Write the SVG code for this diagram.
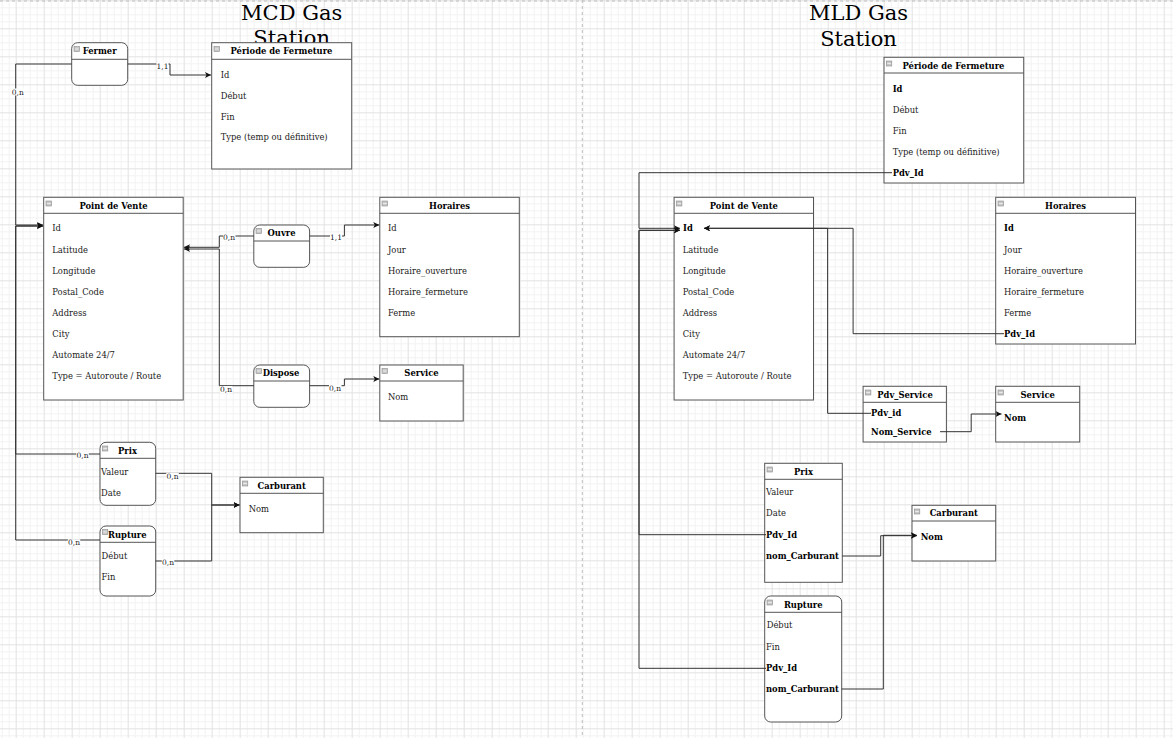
<svg xmlns="http://www.w3.org/2000/svg" width="1173" height="738" viewBox="0 0 1173 738">
<style>
.box{fill:#fff;stroke:#555;stroke-width:1}
.hd{stroke:#555;stroke-width:1;fill:none}
.ic{fill:#c8c8c8;stroke:#8a8a8a;stroke-width:0.6}
.icl{stroke:#f4f4f4;stroke-width:0.8}
.t{font-family:"DejaVu Serif","Liberation Serif",serif;font-size:8.4px;fill:#1a1a1a}
.b{font-weight:bold;fill:#000}
.c{text-anchor:middle}
.h{font-family:"DejaVu Serif","Liberation Serif",serif;font-size:21px;fill:#000;text-anchor:middle}
.edge{fill:none;stroke:#333;stroke-width:1}
.lbl{font-family:"DejaVu Serif","Liberation Serif",serif;font-size:7.5px;fill:#222;text-anchor:middle}
.lbg{fill:#fff}
</style>
<defs>
<pattern id="grid" x="15.7" y="0.3" width="28" height="28" patternUnits="userSpaceOnUse">
<path d="M7.5 0V28M14.5 0V28M21.5 0V28M0 7.5H28M0 14.5H28M0 21.5H28" stroke="#f2f2f2" stroke-width="1"/>
<path d="M0.5 0V28M0 0.5H28" stroke="#e2e2e2" stroke-width="1"/>
</pattern>
<marker id="arr" markerUnits="userSpaceOnUse" markerWidth="7" markerHeight="7" refX="6" refY="3" orient="auto">
<path d="M0,0 L6,3 L0,6 L1.5,3 Z" fill="#111"/>
</marker>
</defs>
<rect width="1173" height="738" fill="#fff"/>
<rect width="1173" height="738" fill="url(#grid)"/>
<line x1="0" y1="1" x2="1173" y2="1" stroke="#bdbdbd" stroke-dasharray="3 3"/>
<line x1="582.3" y1="0" x2="582.3" y2="738" stroke="#bdbdbd" stroke-dasharray="3 3"/>

<g id="title-mcd">
<text class="h" x="291.7" y="19.5">MCD Gas</text>
<text class="h" x="291.7" y="45">Station</text>
</g>
<g id="title-mld">
<text class="h" x="858.5" y="20">MLD Gas</text>
<text class="h" x="858.5" y="45.5">Station</text>
</g>

<!-- MCD -->
<g id="mcd-fermer">
<rect class="box" x="71.7" y="42.7" width="56" height="42.6" rx="6"/>
<line class="hd" x1="71.7" y1="59.3" x2="127.7" y2="59.3"/>
<rect class="ic" x="74" y="46.5" width="5.5" height="5"/><line class="icl" x1="75" y1="49" x2="78.5" y2="49"/>
<text class="t b c" x="99.7" y="54">Fermer</text>
</g>
<g id="mcd-periode">
<rect class="box" x="211.7" y="42.7" width="140" height="126.3"/>
<line class="hd" x1="211.7" y1="59.3" x2="351.7" y2="59.3"/>
<rect class="ic" x="214" y="46.5" width="5.5" height="5"/><line class="icl" x1="215" y1="49" x2="218.5" y2="49"/>
<text class="t b c" x="281.5" y="54">Période de Fermeture</text>
<text class="t" x="220.7" y="78">Id</text>
<text class="t" x="220.7" y="98.7">Début</text>
<text class="t" x="220.7" y="119.7">Fin</text>
<text class="t" x="220.7" y="140.3">Type (temp ou définitive)</text>
</g>
<g id="mcd-pdv">
<rect class="box" x="43.7" y="197.3" width="139.5" height="202.7"/>
<line class="hd" x1="43.7" y1="213.3" x2="183.2" y2="213.3"/>
<rect class="ic" x="46" y="201" width="5.5" height="5"/><line class="icl" x1="47" y1="203.5" x2="50.5" y2="203.5"/>
<text class="t b c" x="113.5" y="208.7">Point de Vente</text>
<text class="t" x="52.3" y="231.3">Id</text>
<text class="t" x="52.3" y="252.7">Latitude</text>
<text class="t" x="52.3" y="273.7">Longitude</text>
<text class="t" x="52.3" y="294.7">Postal_Code</text>
<text class="t" x="52.3" y="315.7">Address</text>
<text class="t" x="52.3" y="336.7">City</text>
<text class="t" x="52.3" y="357.7">Automate 24/7</text>
<text class="t" x="52.3" y="378.7">Type = Autoroute / Route</text>
</g>
<g id="mcd-ouvre">
<rect class="box" x="253.8" y="225" width="55.8" height="42.3" rx="6"/>
<line class="hd" x1="253.8" y1="241" x2="309.6" y2="241"/>
<rect class="ic" x="256" y="228.5" width="5.5" height="5"/><line class="icl" x1="257" y1="231" x2="260.5" y2="231"/>
<text class="t b c" x="281.5" y="236.3">Ouvre</text>
</g>
<g id="mcd-dispose">
<rect class="box" x="253.8" y="365" width="55.8" height="42.3" rx="6"/>
<line class="hd" x1="253.8" y1="381" x2="309.6" y2="381"/>
<rect class="ic" x="256" y="368.5" width="5.5" height="5"/><line class="icl" x1="257" y1="371" x2="260.5" y2="371"/>
<text class="t b c" x="281" y="376.3">Dispose</text>
</g>
<g id="mcd-horaires">
<rect class="box" x="379.8" y="197.3" width="139.5" height="139.4"/>
<line class="hd" x1="379.8" y1="213.3" x2="519.3" y2="213.3"/>
<rect class="ic" x="382" y="201" width="5.5" height="5"/><line class="icl" x1="383" y1="203.5" x2="386.5" y2="203.5"/>
<text class="t b c" x="449.5" y="208.7">Horaires</text>
<text class="t" x="388" y="231.3">Id</text>
<text class="t" x="388" y="252.7">Jour</text>
<text class="t" x="388" y="273.7">Horaire_ouverture</text>
<text class="t" x="388" y="294.7">Horaire_fermeture</text>
<text class="t" x="388" y="315.7">Ferme</text>
</g>
<g id="mcd-service">
<rect class="box" x="379.8" y="365" width="83.4" height="56"/>
<line class="hd" x1="379.8" y1="381" x2="463.2" y2="381"/>
<rect class="ic" x="382" y="368.5" width="5.5" height="5"/><line class="icl" x1="383" y1="371" x2="386.5" y2="371"/>
<text class="t b c" x="421.5" y="376.3">Service</text>
<text class="t" x="388" y="399.7">Nom</text>
</g>
<g id="mcd-prix">
<rect class="box" x="100" y="442.3" width="55.7" height="63" rx="6"/>
<line class="hd" x1="100" y1="458.3" x2="155.7" y2="458.3"/>
<rect class="ic" x="102.3" y="446" width="5.5" height="5"/><line class="icl" x1="103.3" y1="448.5" x2="106.8" y2="448.5"/>
<text class="t b c" x="127.5" y="453.7">Prix</text>
<text class="t" x="101" y="474.7">Valeur</text>
<text class="t" x="101" y="495.7">Date</text>
</g>
<g id="mcd-rupture">
<rect class="box" x="100" y="526" width="55.7" height="70" rx="6"/>
<line class="hd" x1="100" y1="542.3" x2="155.7" y2="542.3"/>
<rect class="ic" x="102.3" y="529.5" width="5.5" height="5"/><line class="icl" x1="103.3" y1="532" x2="106.8" y2="532"/>
<text class="t b c" x="127.3" y="537.7">Rupture</text>
<text class="t" x="101.5" y="558.7">Début</text>
<text class="t" x="101.5" y="579.7">Fin</text>
</g>
<g id="mcd-carburant">
<rect class="box" x="240" y="477.3" width="83.3" height="55.4"/>
<line class="hd" x1="240" y1="493.3" x2="323.3" y2="493.3"/>
<rect class="ic" x="242.3" y="481" width="5.5" height="5"/><line class="icl" x1="243.3" y1="483.5" x2="246.8" y2="483.5"/>
<text class="t b c" x="281.7" y="488.7">Carburant</text>
<text class="t" x="248.7" y="512">Nom</text>
</g>

<!-- MLD -->
<g id="mld-periode">
<rect class="box" x="884" y="57.3" width="139.7" height="125.7"/>
<line class="hd" x1="884" y1="73" x2="1023.7" y2="73"/>
<rect class="ic" x="886.3" y="61" width="5.5" height="5"/><line class="icl" x1="887.3" y1="63.5" x2="890.8" y2="63.5"/>
<text class="t b c" x="953.5" y="68.7">Période de Fermeture</text>
<text class="t b" x="892.7" y="91.7">Id</text>
<text class="t" x="892.7" y="112.7">Début</text>
<text class="t" x="892.7" y="133.7">Fin</text>
<text class="t" x="892.7" y="154.7">Type (temp ou définitive)</text>
<text class="t b" x="892.7" y="175.7">Pdv_Id</text>
</g>
<g id="mld-pdv">
<rect class="box" x="674.1" y="197.3" width="139.4" height="202.7"/>
<line class="hd" x1="674.1" y1="213.3" x2="813.5" y2="213.3"/>
<rect class="ic" x="676.4" y="201" width="5.5" height="5"/><line class="icl" x1="677.4" y1="203.5" x2="680.9" y2="203.5"/>
<text class="t b c" x="743.8" y="208.7">Point de Vente</text>
<text class="t b" x="683" y="231.3">Id</text>
<text class="t" x="682.7" y="252.7">Latitude</text>
<text class="t" x="682.7" y="273.7">Longitude</text>
<text class="t" x="682.7" y="294.7">Postal_Code</text>
<text class="t" x="682.7" y="315.7">Address</text>
<text class="t" x="682.7" y="336.7">City</text>
<text class="t" x="682.7" y="357.7">Automate 24/7</text>
<text class="t" x="682.7" y="378.7">Type = Autoroute / Route</text>
</g>
<g id="mld-horaires">
<rect class="box" x="995.7" y="197.3" width="139.8" height="146.7"/>
<line class="hd" x1="995.7" y1="213.3" x2="1135.5" y2="213.3"/>
<rect class="ic" x="998" y="201" width="5.5" height="5"/><line class="icl" x1="999" y1="203.5" x2="1002.5" y2="203.5"/>
<text class="t b c" x="1065.6" y="208.7">Horaires</text>
<text class="t b" x="1004" y="231.3">Id</text>
<text class="t" x="1004" y="252.7">Jour</text>
<text class="t" x="1004" y="273.7">Horaire_ouverture</text>
<text class="t" x="1004" y="294.7">Horaire_fermeture</text>
<text class="t" x="1004" y="315.7">Ferme</text>
<text class="t b" x="1004" y="336.7">Pdv_Id</text>
</g>
<g id="mld-pdv-service">
<rect class="box" x="863.1" y="386.3" width="83.3" height="55.7"/>
<line class="hd" x1="863.1" y1="402.3" x2="946.4" y2="402.3"/>
<rect class="ic" x="865.4" y="390" width="5.5" height="5"/><line class="icl" x1="866.4" y1="392.5" x2="869.9" y2="392.5"/>
<text class="t b c" x="905" y="397.7">Pdv_Service</text>
<text class="t b" x="871" y="416.3">Pdv_id</text>
<text class="t b" x="871" y="434.7">Nom_Service</text>
</g>
<g id="mld-service">
<rect class="box" x="995.7" y="386.3" width="84" height="55.7"/>
<line class="hd" x1="995.7" y1="402.3" x2="1079.7" y2="402.3"/>
<rect class="ic" x="998" y="390" width="5.5" height="5"/><line class="icl" x1="999" y1="392.5" x2="1002.5" y2="392.5"/>
<text class="t b c" x="1037.7" y="397.7">Service</text>
<text class="t b" x="1004" y="420.7">Nom</text>
</g>
<g id="mld-prix">
<rect class="box" x="764.7" y="463.3" width="77.6" height="119"/>
<line class="hd" x1="764.7" y1="479.3" x2="842.3" y2="479.3"/>
<rect class="ic" x="767" y="467" width="5.5" height="5"/><line class="icl" x1="768" y1="469.5" x2="771.5" y2="469.5"/>
<text class="t b c" x="803.5" y="474.7">Prix</text>
<text class="t" x="766" y="495.3">Valeur</text>
<text class="t" x="766" y="516.3">Date</text>
<text class="t b" x="766" y="537.7">Pdv_Id</text>
<text class="t b" x="766" y="559">nom_Carburant</text>
</g>
<g id="mld-rupture">
<rect class="box" x="764.7" y="596" width="77" height="126" rx="6"/>
<line class="hd" x1="764.7" y1="612.3" x2="841.7" y2="612.3"/>
<rect class="ic" x="767" y="600" width="5.5" height="5"/><line class="icl" x1="768" y1="602.5" x2="771.5" y2="602.5"/>
<text class="t b c" x="803.2" y="607.7">Rupture</text>
<text class="t" x="766.7" y="628.3">Début</text>
<text class="t" x="766" y="649.7">Fin</text>
<text class="t b" x="766" y="670.7">Pdv_Id</text>
<text class="t b" x="766" y="692">nom_Carburant</text>
</g>
<g id="mld-carburant">
<rect class="box" x="912" y="505.3" width="83.7" height="55.7"/>
<line class="hd" x1="912" y1="521" x2="995.7" y2="521"/>
<rect class="ic" x="914.3" y="509" width="5.5" height="5"/><line class="icl" x1="915.3" y1="511.5" x2="918.8" y2="511.5"/>
<text class="t b c" x="953.8" y="516.3">Carburant</text>
<text class="t b" x="920.7" y="539.7">Nom</text>
</g>

<g id="connectors">
<path class="edge" d="M71.7,64 H15.7 V225 H43" marker-end="url(#arr)"/>
<path class="edge" d="M100,454 H15.7 V226 H43" marker-end="url(#arr)"/>
<path class="edge" d="M100,540 H15.7 V226 H43" marker-end="url(#arr)"/>
<path class="edge" d="M127.7,64 H170 V75 H211" marker-end="url(#arr)"/>
<path class="edge" d="M253.8,236 H219.3 V247.3 H184" marker-end="url(#arr)"/>
<path class="edge" d="M253.8,385.7 H219.3 V249 H184" marker-end="url(#arr)"/>
<path class="edge" d="M309.6,236 H344.4 V225 H379.3" marker-end="url(#arr)"/>
<path class="edge" d="M309.6,385.7 H344.4 V379 H379.3" marker-end="url(#arr)"/>
<path class="edge" d="M155.7,473.3 H211.7 V505 H239.5" marker-end="url(#arr)"/>
<path class="edge" d="M155.7,561 H211.7 V505 H239.5" marker-end="url(#arr)"/>

<path class="edge" d="M892,172.7 H639 V228.3 H680" marker-end="url(#arr)"/>
<path class="edge" d="M766,534.7 H639 V230.3 H680" marker-end="url(#arr)"/>
<path class="edge" d="M766,668.3 H639 V230.3 H680" marker-end="url(#arr)"/>
<path class="edge" d="M1004,333.7 H853.1 V228.3 H704" marker-end="url(#arr)"/>
<path class="edge" d="M871,413.3 H827.6 V228.3 H704" marker-end="url(#arr)"/>
<path class="edge" d="M940,431.7 H971.2 V414 H1001.5" marker-end="url(#arr)"/>
<path class="edge" d="M842.3,556 H880.7 V535.7 H917" marker-end="url(#arr)"/>
<path class="edge" d="M841.7,689 H883.3 V535.3 H917" marker-end="url(#arr)"/>

<g id="labels">
<rect class="lbg" x="11.5" y="88.5" width="12.5" height="7"/><text class="lbl" x="17.8" y="94.5">0,n</text>
<rect class="lbg" x="156.5" y="62.5" width="12" height="7"/><text class="lbl" x="162.5" y="68.5">1,1</text>
<rect class="lbg" x="223" y="234" width="12.5" height="7"/><text class="lbl" x="229" y="240">0,n</text>
<rect class="lbg" x="330" y="233.5" width="12" height="7"/><text class="lbl" x="336" y="239.5">1,1</text>
<rect class="lbg" x="220" y="386" width="12.5" height="7"/><text class="lbl" x="226" y="392">0,n</text>
<rect class="lbg" x="329" y="384.8" width="12.5" height="7"/><text class="lbl" x="335" y="390.8">0,n</text>
<rect class="lbg" x="76.3" y="451.8" width="12.5" height="7"/><text class="lbl" x="82.5" y="457.8">0,n</text>
<rect class="lbg" x="67.8" y="539.2" width="12.5" height="7"/><text class="lbl" x="74" y="545.2">0,n</text>
<rect class="lbg" x="166.3" y="472.8" width="12.5" height="7"/><text class="lbl" x="172.5" y="478.8">0,n</text>
<rect class="lbg" x="161.8" y="559.2" width="12.5" height="7"/><text class="lbl" x="168" y="565.2">0,n</text>
</g>
</g>
</svg>
